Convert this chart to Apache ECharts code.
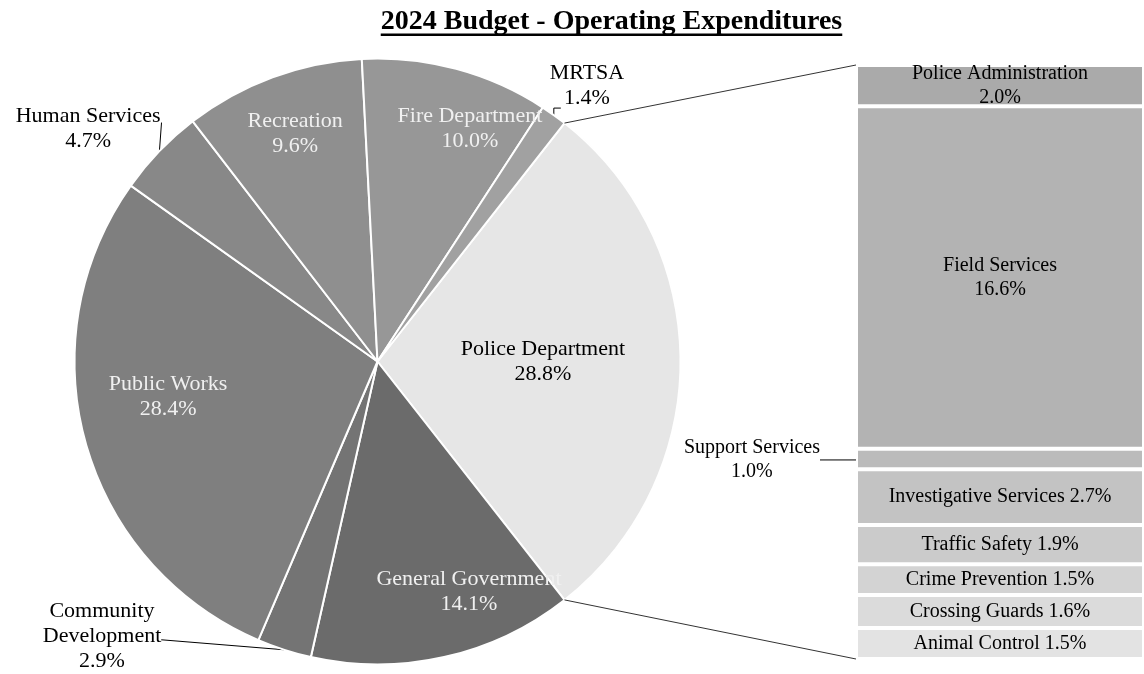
<!DOCTYPE html>
<html>
<head>
<meta charset="utf-8">
<script src="https://cdn.jsdelivr.net/npm/echarts@6/dist/echarts.min.js"></script>
<style>
  html, body { margin: 0; padding: 0; background: #ffffff; }
  #chart { width: 1144px; height: 674px; }
</style>
</head>
<body>
<div id="chart"></div>
<script>
// ---- Data -------------------------------------------------------------
const titleText = '2024 Budget - Operating Expenditures';

// Departments, clockwise starting with the Police Department slice
const departments = ['Police Department', 'General Government', 'Community Development',
  'Public Works', 'Human Services', 'Recreation', 'Fire Department', 'MRTSA'];
const departmentShares = [28.8, 14.1, 2.9, 28.4, 4.7, 9.6, 10.0, 1.4];

// Police Department divisions, top to bottom in the breakout bar
const policeDivisions = ['Police Administration', 'Field Services', 'Support Services',
  'Investigative Services', 'Traffic Safety', 'Crime Prevention', 'Crossing Guards', 'Animal Control'];
const policeShares = [2.0, 16.6, 1.0, 2.7, 1.9, 1.5, 1.6, 1.5];

// ---- Styles -----------------------------------------------------------
const departmentColors = ['#e6e6e6', '#6b6b6b', '#747474', '#7f7f7f', '#888888', '#8f8f8f', '#979797', '#a1a1a1'];
const divisionColors = ['#aaaaaa', '#b3b3b3', '#bbbbbb', '#c3c3c3', '#cbcbcb', '#d3d3d3', '#dbdbdb', '#e3e3e3'];
// label placement per slice: [radius fraction, angle offset from the slice middle in degrees]
const sliceLabelPlace = [[0.546, 0], [0.818, 8.95], [1.283, -27.2], [0.701, -6.06],
  [1.226, 5.13], [0.80, -0.4], [0.827, -6.6], [1.142, -1.67]];
const sliceLabelOutside = [false, false, true, false, true, false, false, true];

const FONT = 'Liberation Serif';
const PIE = { cx: 377.5, cy: 361.5, r: 303 };
const GRID = { left: 856, right: -10, top: 65, bottom: 15 };
const TITLE = { x: 611.5, y: 22, size: 28 };

// ---- Geometry derived from the data ---------------------------------
const total = departmentShares.reduce((a, b) => a + b, 0);
const startAngle = departmentShares[0] / total * 360 / 2;
const midAngles = [];
(function () {
  let a = startAngle;
  departmentShares.forEach(v => {
    const w = v / total * 360;
    midAngles.push(a - w / 2);
    a -= w;
  });
})();
const rad = d => d * Math.PI / 180;
const onCircle = (deg, f) => [PIE.cx + f * PIE.r * Math.cos(rad(deg)), PIE.cy - f * PIE.r * Math.sin(rad(deg))];

function textWidth(text, font) {
  const ctx = document.createElement('canvas').getContext('2d');
  ctx.font = font;
  return ctx.measureText(text).width;
}
const titleFont = 'bold ' + TITLE.size + 'px "' + FONT + '"';
const titleW = textWidth(titleText, titleFont);

// ---- Chart ------------------------------------------------------------
const chart = echarts.init(document.getElementById('chart'));

const pieData = departments.map((name, i) => ({
  name: name,
  value: departmentShares[i],
  itemStyle: { color: departmentColors[i] },
  label: {
    color: (i === 0 || sliceLabelOutside[i]) ? '#000000' : '#f0f0f0',
    position: sliceLabelOutside[i] ? 'outside' : 'inside'
  },
  labelLine: { show: sliceLabelOutside[i], lineStyle: { color: '#000000', width: 1 } }
}));

const barSeries = policeDivisions.map((name, i) => {
  const s = {
    type: 'bar',
    name: name,
    stack: 'police',
    data: [policeShares[i]],
    barWidth: '100%',
    itemStyle: { color: divisionColors[i], borderColor: '#ffffff', borderWidth: 2 },
    label: {
      show: true,
      position: 'inside',
      color: '#000000',
      fontFamily: FONT,
      fontSize: 20,
      lineHeight: 24,
      formatter: p => p.seriesName + (i < 3 ? '\n' : ' ') + p.value.toFixed(1) + '%'
    },
    silent: true
  };
  if (name === 'Support Services') {
    s.label.position = 'left';
    s.labelLine = { show: true, lineStyle: { color: '#000000', width: 1 } };
    s.labelLayout = function (p) {
      const cy = p.rect.y + p.rect.height / 2 + 1;
      return {
        x: p.rect.x - 36 - p.labelRect.width / 2,
        y: cy,
        align: 'center',
        verticalAlign: 'middle',
        labelLinePoints: [[p.rect.x, cy], [p.rect.x - 28, cy], [p.rect.x - 28, cy]]
      };
    };
  }
  return s;
});

const topEdge = onCircle(startAngle, 1);
const bottomEdge = onCircle(-startAngle, 1);

chart.setOption({
  animation: false,
  backgroundColor: '#ffffff',
  textStyle: { fontFamily: FONT },
  grid: { left: GRID.left, right: GRID.right, top: GRID.top, bottom: GRID.bottom },
  xAxis: { type: 'category', data: ['Police Department'], show: false },
  yAxis: { type: 'value', min: 0, max: policeShares.reduce((a, b) => a + b, 0), inverse: true, show: false },
  graphic: [
    { type: 'text', x: TITLE.x, y: TITLE.y, z: 10,
      style: { text: titleText, font: titleFont, fill: '#000000',
        align: 'center', verticalAlign: 'middle', textAlign: 'center', textVerticalAlign: 'middle' } },
    { type: 'rect', z: 10, shape: { x: TITLE.x - titleW / 2, y: 33.5, width: titleW, height: 2.5 },
      style: { fill: '#000000' } },
    { type: 'line', z: 10, shape: { x1: topEdge[0], y1: topEdge[1], x2: GRID.left, y2: GRID.top },
      style: { stroke: '#333333', lineWidth: 1 } },
    { type: 'line', z: 10, shape: { x1: bottomEdge[0], y1: bottomEdge[1], x2: GRID.left, y2: 674 - GRID.bottom },
      style: { stroke: '#333333', lineWidth: 1 } }
  ],
  series: [
    {
      type: 'pie',
      center: [PIE.cx, PIE.cy],
      radius: PIE.r,
      startAngle: startAngle,
      clockwise: true,
      avoidLabelOverlap: false,
      silent: true,
      data: pieData,
      itemStyle: { borderColor: '#ffffff', borderWidth: 2 },
      label: {
        show: true,
        fontFamily: FONT,
        fontSize: 22,
        lineHeight: 25,
        formatter: p => (p.name === 'Community Development' ? 'Community\nDevelopment' : p.name) +
          '\n' + p.value.toFixed(1) + '%'
      },
      labelLine: { show: false },
      labelLayout: function (p) {
        const i = p.dataIndex;
        const place = sliceLabelPlace[i];
        const c = onCircle(midAngles[i] + place[1], place[0]);
        const out = { x: c[0], y: c[1], align: 'center', verticalAlign: 'middle' };
        if (sliceLabelOutside[i]) {
          const e = onCircle(midAngles[i], 1);
          const w = p.labelRect.width, h = p.labelRect.height;
          const x0 = c[0] - w / 2, y0 = c[1] - h / 2;
          const name = departments[i];
          if (name === 'MRTSA') {
            out.labelLinePoints = [[e[0], e[1]], [e[0], e[1] - 7], [e[0] + 7, e[1] - 7]];
          } else if (name === 'Human Services') {
            out.labelLinePoints = [[e[0], e[1]], [x0 + w + 1, y0 + 19], [x0 + w + 1, y0 + 19]];
          } else {
            out.labelLinePoints = [[e[0], e[1]], [x0 + w, c[1] + 4], [x0 + w, c[1] + 4]];
          }
        }
        return out;
      }
    }
  ].concat(barSeries)
});
</script>
</body>
</html>
